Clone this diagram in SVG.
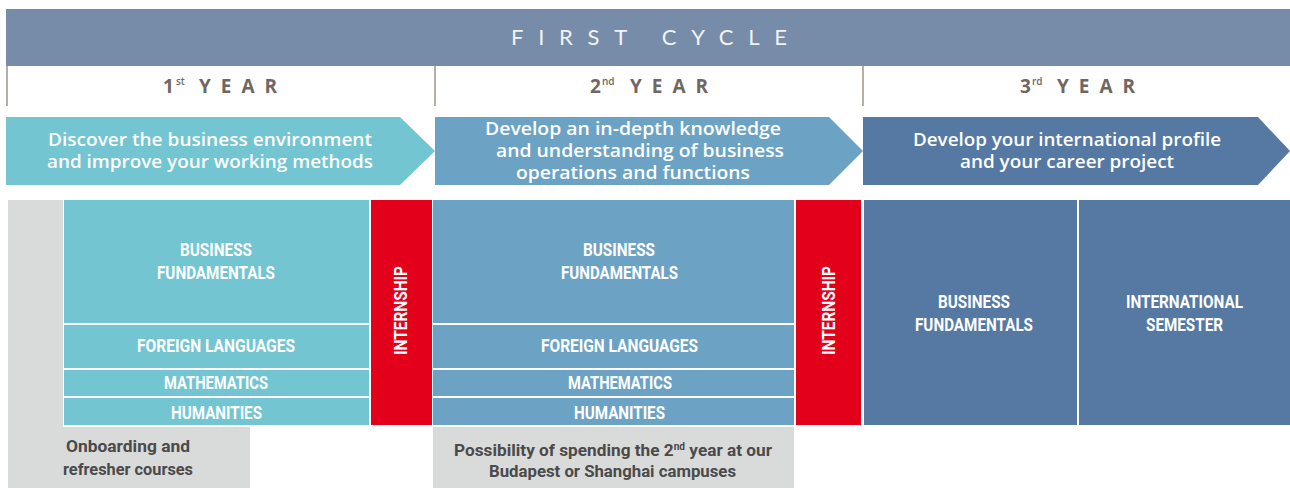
<svg xmlns="http://www.w3.org/2000/svg" width="1290" height="488" viewBox="0 0 1290 488">
<style>
.lbl{font-family:Roboto,"Liberation Sans",sans-serif;font-weight:700;font-size:18px;fill:#ffffff;}
.note{font-family:Roboto,"Liberation Sans",sans-serif;font-weight:700;font-size:17px;fill:#4a4a4a;}
.arr{font-family:"Open Sans","Liberation Sans",sans-serif;font-weight:600;font-size:18px;fill:#ffffff;}
.yr{font-family:"Open Sans","Liberation Sans",sans-serif;font-weight:700;font-size:19px;fill:#6f6762;}
.sup{font-family:"Open Sans","Liberation Sans",sans-serif;font-weight:600;font-size:10px;fill:#6f6762;}
.c1{fill:#72c5d1;}
.c2{fill:#6ca3c4;}
.c3{fill:#5579a3;}
.red{fill:#e2001a;}
.grey{fill:#d9dada;}
.div{stroke:#9c948e;stroke-width:1.5;}
</style>
<rect width="1290" height="488" fill="#ffffff"/>

<g id="header">
<rect x="6" y="9" width="1284" height="57" fill="#778ca9"/>
<text x="511" y="45" textLength="276" lengthAdjust="spacing" style="font-family:Lato,'Open Sans',sans-serif;font-weight:400;font-size:22px;fill:#f2f2f2">FIRST CYCLE</text>
</g>

<g id="dividers">
<line class="div" x1="7" y1="66" x2="7" y2="106"/>
<line class="div" x1="435" y1="66" x2="435" y2="106"/>
<line class="div" x1="863" y1="66" x2="863" y2="106"/>
</g>

<g id="year1-title">
<text class="yr" x="163" y="93">1</text>
<text class="sup" x="176" y="85">st</text>
<text class="yr" x="199" y="93" textLength="78" lengthAdjust="spacing">YEAR</text>
</g>
<g id="year2-title">
<text class="yr" x="590" y="93">2</text>
<text class="sup" x="602" y="85">nd</text>
<text class="yr" x="630" y="93" textLength="78" lengthAdjust="spacing">YEAR</text>
</g>
<g id="year3-title">
<text class="yr" x="1020" y="93">3</text>
<text class="sup" x="1032" y="85">rd</text>
<text class="yr" x="1057" y="93" textLength="78" lengthAdjust="spacing">YEAR</text>
</g>

<g id="arrow1">
<polygon class="c1" points="6,117 400,117 435,151 400,185 6,185"/>
<text class="arr" x="48" y="146" textLength="324" lengthAdjust="spacingAndGlyphs">Discover the business environment</text>
<text class="arr" x="47" y="168" textLength="326" lengthAdjust="spacingAndGlyphs">and improve your working methods</text>
</g>
<g id="arrow2">
<polygon class="c2" points="435,117 829,117 863,151 829,185 435,185"/>
<text class="arr" x="485" y="135" textLength="296" lengthAdjust="spacingAndGlyphs">Develop an in-depth knowledge</text>
<text class="arr" x="496" y="157" textLength="288" lengthAdjust="spacingAndGlyphs">and understanding of business</text>
<text class="arr" x="516" y="179" textLength="234" lengthAdjust="spacingAndGlyphs">operations and functions</text>
</g>
<g id="arrow3">
<polygon class="c3" points="863,117 1258,117 1290,151 1258,185 863,185"/>
<text class="arr" x="913" y="146" textLength="308" lengthAdjust="spacingAndGlyphs">Develop your international profile</text>
<text class="arr" x="960" y="168" textLength="214" lengthAdjust="spacingAndGlyphs">and your career project</text>
</g>

<g id="onboarding">
<path class="grey" d="M8,200 H63 V427 H250 V488 H8 Z"/>
<text class="note" x="66" y="452" textLength="124" lengthAdjust="spacingAndGlyphs">Onboarding and</text>
<text class="note" x="63" y="475" textLength="130" lengthAdjust="spacingAndGlyphs">refresher courses</text>
</g>

<g id="y1-business">
<rect class="c1" x="64" y="200" width="305" height="123"/>
<text class="lbl" x="180" y="256" textLength="72" lengthAdjust="spacingAndGlyphs">BUSINESS</text>
<text class="lbl" x="157" y="279" textLength="118" lengthAdjust="spacingAndGlyphs">FUNDAMENTALS</text>
</g>
<g id="y1-languages">
<rect class="c1" x="64" y="325" width="305" height="43"/>
<text class="lbl" x="137" y="352" textLength="158" lengthAdjust="spacingAndGlyphs">FOREIGN LANGUAGES</text>
</g>
<g id="y1-maths">
<rect class="c1" x="64" y="370" width="305" height="26"/>
<text class="lbl" x="164" y="389" textLength="104" lengthAdjust="spacingAndGlyphs">MATHEMATICS</text>
</g>
<g id="y1-humanities">
<rect class="c1" x="64" y="398" width="305" height="27"/>
<text class="lbl" x="171" y="419" textLength="91" lengthAdjust="spacingAndGlyphs">HUMANITIES</text>
</g>
<g id="internship1">
<rect class="red" x="371" y="200" width="61" height="225"/>
<text class="lbl" transform="translate(407,355) rotate(-90)" x="0" y="0" textLength="89" lengthAdjust="spacingAndGlyphs" style="font-size:19px">INTERNSHIP</text>
</g>

<g id="y2-business">
<rect class="c2" x="433" y="200" width="361" height="123"/>
<text class="lbl" x="583" y="256" textLength="72" lengthAdjust="spacingAndGlyphs">BUSINESS</text>
<text class="lbl" x="561" y="279" textLength="117" lengthAdjust="spacingAndGlyphs">FUNDAMENTALS</text>
</g>
<g id="y2-languages">
<rect class="c2" x="433" y="325" width="361" height="43"/>
<text class="lbl" x="541" y="352" textLength="157" lengthAdjust="spacingAndGlyphs">FOREIGN LANGUAGES</text>
</g>
<g id="y2-maths">
<rect class="c2" x="433" y="370" width="361" height="26"/>
<text class="lbl" x="568" y="389" textLength="104" lengthAdjust="spacingAndGlyphs">MATHEMATICS</text>
</g>
<g id="y2-humanities">
<rect class="c2" x="433" y="398" width="361" height="27"/>
<text class="lbl" x="574" y="419" textLength="91" lengthAdjust="spacingAndGlyphs">HUMANITIES</text>
</g>
<g id="internship2">
<rect class="red" x="796" y="200" width="65" height="225"/>
<text class="lbl" transform="translate(835,355) rotate(-90)" x="0" y="0" textLength="89" lengthAdjust="spacingAndGlyphs" style="font-size:19px">INTERNSHIP</text>
</g>
<g id="campuses">
<rect class="grey" x="433" y="427" width="361" height="61"/>
<text class="note" x="454" y="456" textLength="318" lengthAdjust="spacingAndGlyphs">Possibility of spending the 2<tspan dy="-6" style="font-size:10px">nd</tspan><tspan dy="6"> year at our</tspan></text>
<text class="note" x="489" y="477" textLength="247" lengthAdjust="spacingAndGlyphs">Budapest or Shanghai campuses</text>
</g>

<g id="y3-business">
<rect class="c3" x="864" y="200" width="213" height="225"/>
<text class="lbl" x="938" y="308" textLength="72" lengthAdjust="spacingAndGlyphs">BUSINESS</text>
<text class="lbl" x="915" y="331" textLength="118" lengthAdjust="spacingAndGlyphs">FUNDAMENTALS</text>
</g>
<g id="y3-semester">
<rect class="c3" x="1079" y="200" width="211" height="225"/>
<text class="lbl" x="1126" y="308" textLength="117" lengthAdjust="spacingAndGlyphs">INTERNATIONAL</text>
<text class="lbl" x="1146" y="331" textLength="77" lengthAdjust="spacingAndGlyphs">SEMESTER</text>
</g>

<g id="connectors"></g>
</svg>
